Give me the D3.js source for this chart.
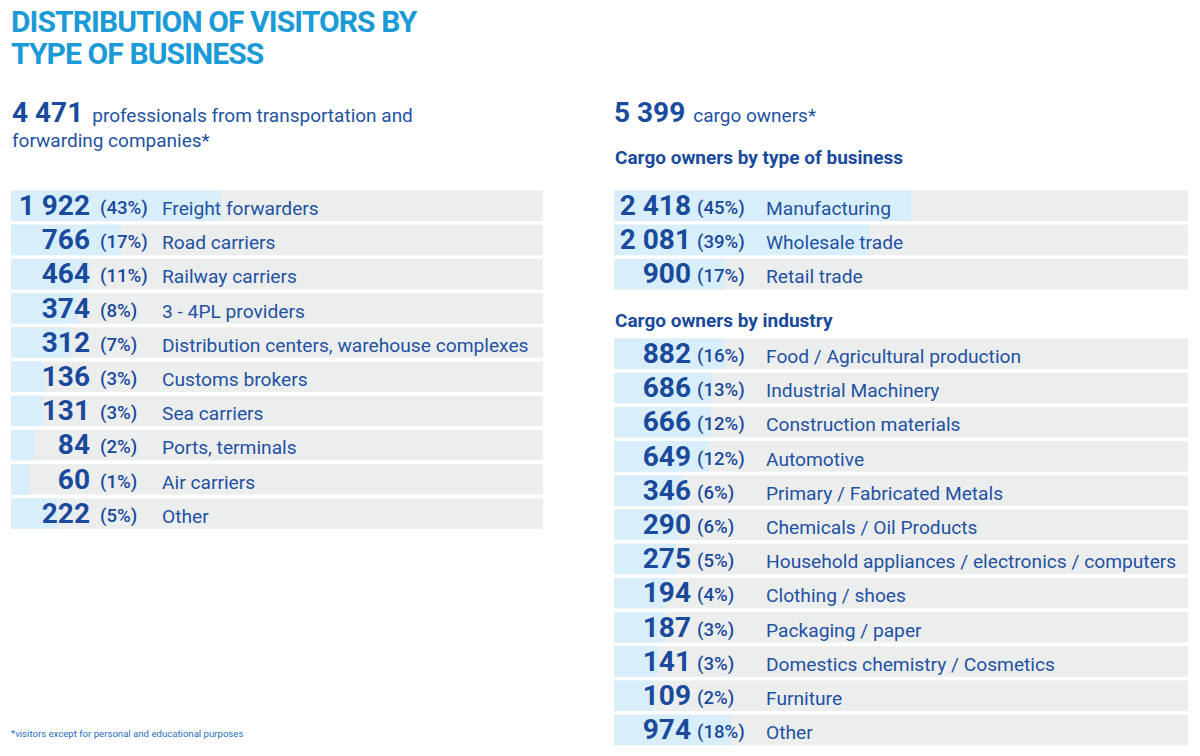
<!DOCTYPE html>
<html><head><meta charset="utf-8">
<script src="https://cdn.jsdelivr.net/npm/d3@7/dist/d3.min.js"></script>
<style>
html,body{margin:0;padding:0;background:#fff;}
svg text{font-family:Roboto,"Noto Sans",sans-serif;}
</style></head>
<body><svg id="chart" width="1200" height="756"></svg>
<script>
// ---- data ----
const transportCategories = ["Freight forwarders","Road carriers","Railway carriers","3 - 4PL providers","Distribution centers, warehouse complexes","Customs brokers","Sea carriers","Ports, terminals","Air carriers","Other"];
const transportValues = [1922,766,464,374,312,136,131,84,60,222];
const transportPercents = [43,17,11,8,7,3,3,2,1,5];

const businessCategories = ["Manufacturing","Wholesale trade","Retail trade"];
const businessValues = [2418,2081,900];
const businessPercents = [45,39,17];

const industryCategories = ["Food / Agricultural production","Industrial Machinery","Construction materials","Automotive","Primary / Fabricated Metals","Chemicals / Oil Products","Household appliances / electronics / computers","Clothing / shoes","Packaging / paper","Domestics chemistry / Cosmetics","Furniture","Other"];
const industryValues = [882,686,666,649,346,290,275,194,187,141,109,974];
const industryPercents = [16,13,12,12,6,6,5,4,3,3,2,18];

const totalTransport = 4471;
const totalCargo = 5399;

// ---- styles ----
const C_TITLE = "#1b9ad8";
const C_DARK = "#1a4a9c";
const C_LABEL = "#1f52a3";
const C_BAR = "#d8eefa";
const C_ROW = "#eceded";

const svg = d3.select("#chart");
const fmt = d3.formatLocale({decimal:".", thousands:" ", grouping:[3], currency:["",""]}).format(",");

// title
svg.append("text").attr("x",11).attr("y",32).attr("fill",C_TITLE)
  .attr("font-size",30).attr("font-weight",700).attr("letter-spacing",-0.9)
  .text("DISTRIBUTION OF VISITORS BY");
svg.append("text").attr("x",11).attr("y",64).attr("fill",C_TITLE)
  .attr("font-size",30).attr("font-weight",700).attr("letter-spacing",-0.9)
  .text("TYPE OF BUSINESS");

// left heading
const lh = svg.append("text").attr("x",12).attr("y",122).attr("fill",C_DARK);
lh.append("tspan").attr("font-size",28).attr("font-weight",700).text(fmt(totalTransport));
lh.append("tspan").attr("dx",9).attr("font-size",19).attr("fill",C_LABEL).text("professionals from transportation and");
svg.append("text").attr("x",12).attr("y",147).attr("fill",C_LABEL).attr("font-size",19).text("forwarding companies*");

// right heading
const rh = svg.append("text").attr("x",614).attr("y",122).attr("fill",C_DARK);
rh.append("tspan").attr("font-size",28).attr("font-weight",700).text(fmt(totalCargo));
rh.append("tspan").attr("dx",8).attr("font-size",19).attr("fill",C_LABEL).text("cargo owners*");

svg.append("text").attr("x",615).attr("y",164).attr("fill",C_DARK)
  .attr("font-size",19).attr("font-weight",700).text("Cargo owners by type of business");
svg.append("text").attr("x",615).attr("y",327).attr("fill",C_DARK)
  .attr("font-size",19).attr("font-weight",700).text("Cargo owners by industry");

// footnote
svg.append("text").attr("x",11).attr("y",737).attr("fill","#1f6fc4")
  .attr("font-size",9.6).text("*visitors except for personal and educational purposes");

const STEP = 34.2, PAD = 0.108;

function group(cats, vals, pcts, x0, x1, y0, xScale, numX, pctX, labX){
  const band = d3.scaleBand().domain(cats)
    .range([y0, y0 + STEP*(cats.length - PAD)]).paddingInner(PAD).paddingOuter(0);
  const g = svg.append("g");
  const rows = g.selectAll("g.row").data(cats.map((c,i)=>({c, v:vals[i], p:pcts[i]})))
    .join("g").attr("class","row").attr("transform", d=>`translate(0,${band(d.c)})`);
  rows.append("rect").attr("x",x0).attr("width",x1-x0).attr("height",band.bandwidth()).attr("fill",C_ROW);
  rows.append("rect").attr("x",x0).attr("width",d=>xScale(d.v)).attr("height",band.bandwidth()).attr("fill",C_BAR);
  const ty = band.bandwidth()*0.77 + 1;
  rows.append("text").attr("x",numX).attr("y",ty).attr("text-anchor","end")
    .attr("fill",C_DARK).attr("font-size",28).attr("font-weight",700).text(d=>fmt(d.v));
  rows.append("text").attr("x",pctX).attr("y",ty-1).attr("fill",C_DARK)
    .attr("font-size",18.6).attr("font-weight",500).text(d=>`(${d.p}%)`);
  rows.append("text").attr("x",labX).attr("y",ty).attr("fill",C_LABEL)
    .attr("font-size",19.2).text(d=>d.c);
}

const xTransport = d3.scalePow().exponent(0.7).domain([0, d3.max(transportValues)]).range([0, 210]);
const xBusiness = d3.scaleLinear().domain([0, d3.max(businessValues)]).range([0, 297]);
const xIndustry = d3.scaleSqrt().domain([0, d3.max(industryValues)]).range([0, 117]);

group(transportCategories, transportValues, transportPercents, 11, 543, 190.5, xTransport, 90, 100, 162);
group(businessCategories, businessValues, businessPercents, 614, 1188, 190.5, xBusiness, 691, 697, 766);
group(industryCategories, industryValues, industryPercents, 614, 1188, 338.5, xIndustry, 691, 697, 766);
</script></body></html>
